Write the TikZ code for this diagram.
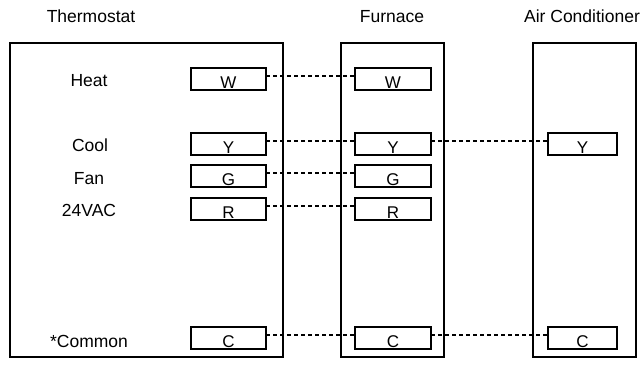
\documentclass[tikz,border=0pt]{standalone}
\usepackage{fontspec}
\setmainfont{Liberation Sans}

\begin{document}
\begin{tikzpicture}[x=1pt, y=1pt,
    unit/.style={draw, line width=2pt, inner sep=0pt, outer sep=0pt, minimum height=314pt},
    term/.style={draw, line width=2pt, inner xsep=0pt, inner ysep=1.5pt, outer sep=0pt,
      text height=19pt, text depth=0pt, font=\fontsize{17}{20}\selectfont},
    lbl/.style={anchor=base, font=\fontsize{17.5}{20}\selectfont},
    wire/.style={line width=2pt, dash pattern=on 4pt off 3pt}]
  \useasboundingbox (0,0) rectangle (642,364);

  % Define nodes
  \node[unit, minimum width=273pt] (thermo) at (146.5,164) {};
  \node[unit, minimum width=103pt] (furnace) at (392.5,164) {};
  \node[unit, minimum width=103pt] (ac) at (584.5,164) {};

  \node[lbl] (thermoT) at (91,341) {Thermostat};
  \node[lbl] (furnaceT) at (392,341) {Furnace};
  \node[lbl] (acT) at (582,341) {Air Conditioner};

  \node[lbl] (heat) at (89,277) {Heat};
  \node[lbl] (cool) at (90,212) {Cool};
  \node[lbl] (fan) at (89,179) {Fan};
  \node[lbl] (vac) at (89,147) {24VAC};
  \node[lbl] (common) at (89,17) {*Common};

  \node[term, minimum width=75pt] (tW) at (228.5,285) {W};
  \node[term, minimum width=75pt] (tY) at (228.5,220) {Y};
  \node[term, minimum width=75pt] (tG) at (228.5,188) {G};
  \node[term, minimum width=75pt] (tR) at (228.5,155) {R};
  \node[term, minimum width=75pt] (tC) at (228.5,26) {C};

  \node[term, minimum width=76pt] (fW) at (393,285) {W};
  \node[term, minimum width=76pt] (fY) at (393,220) {Y};
  \node[term, minimum width=76pt] (fG) at (393,188) {G};
  \node[term, minimum width=76pt] (fR) at (393,155) {R};
  \node[term, minimum width=76pt] (fC) at (393,26) {C};

  \node[term, minimum width=69pt] (aY) at (582.5,220) {Y};
  \node[term, minimum width=69pt] (aC) at (582.5,26) {C};

  % Connect the nodes
  \foreach \t in {W,Y,G,R,C}
    \draw[wire] ([yshift=3pt]t\t.east) -- ([yshift=3pt]f\t.west);
  \foreach \t in {Y,C}
    \draw[wire] ([yshift=3pt]f\t.east) -- ([yshift=3pt]a\t.west);
\end{tikzpicture}
\end{document}
